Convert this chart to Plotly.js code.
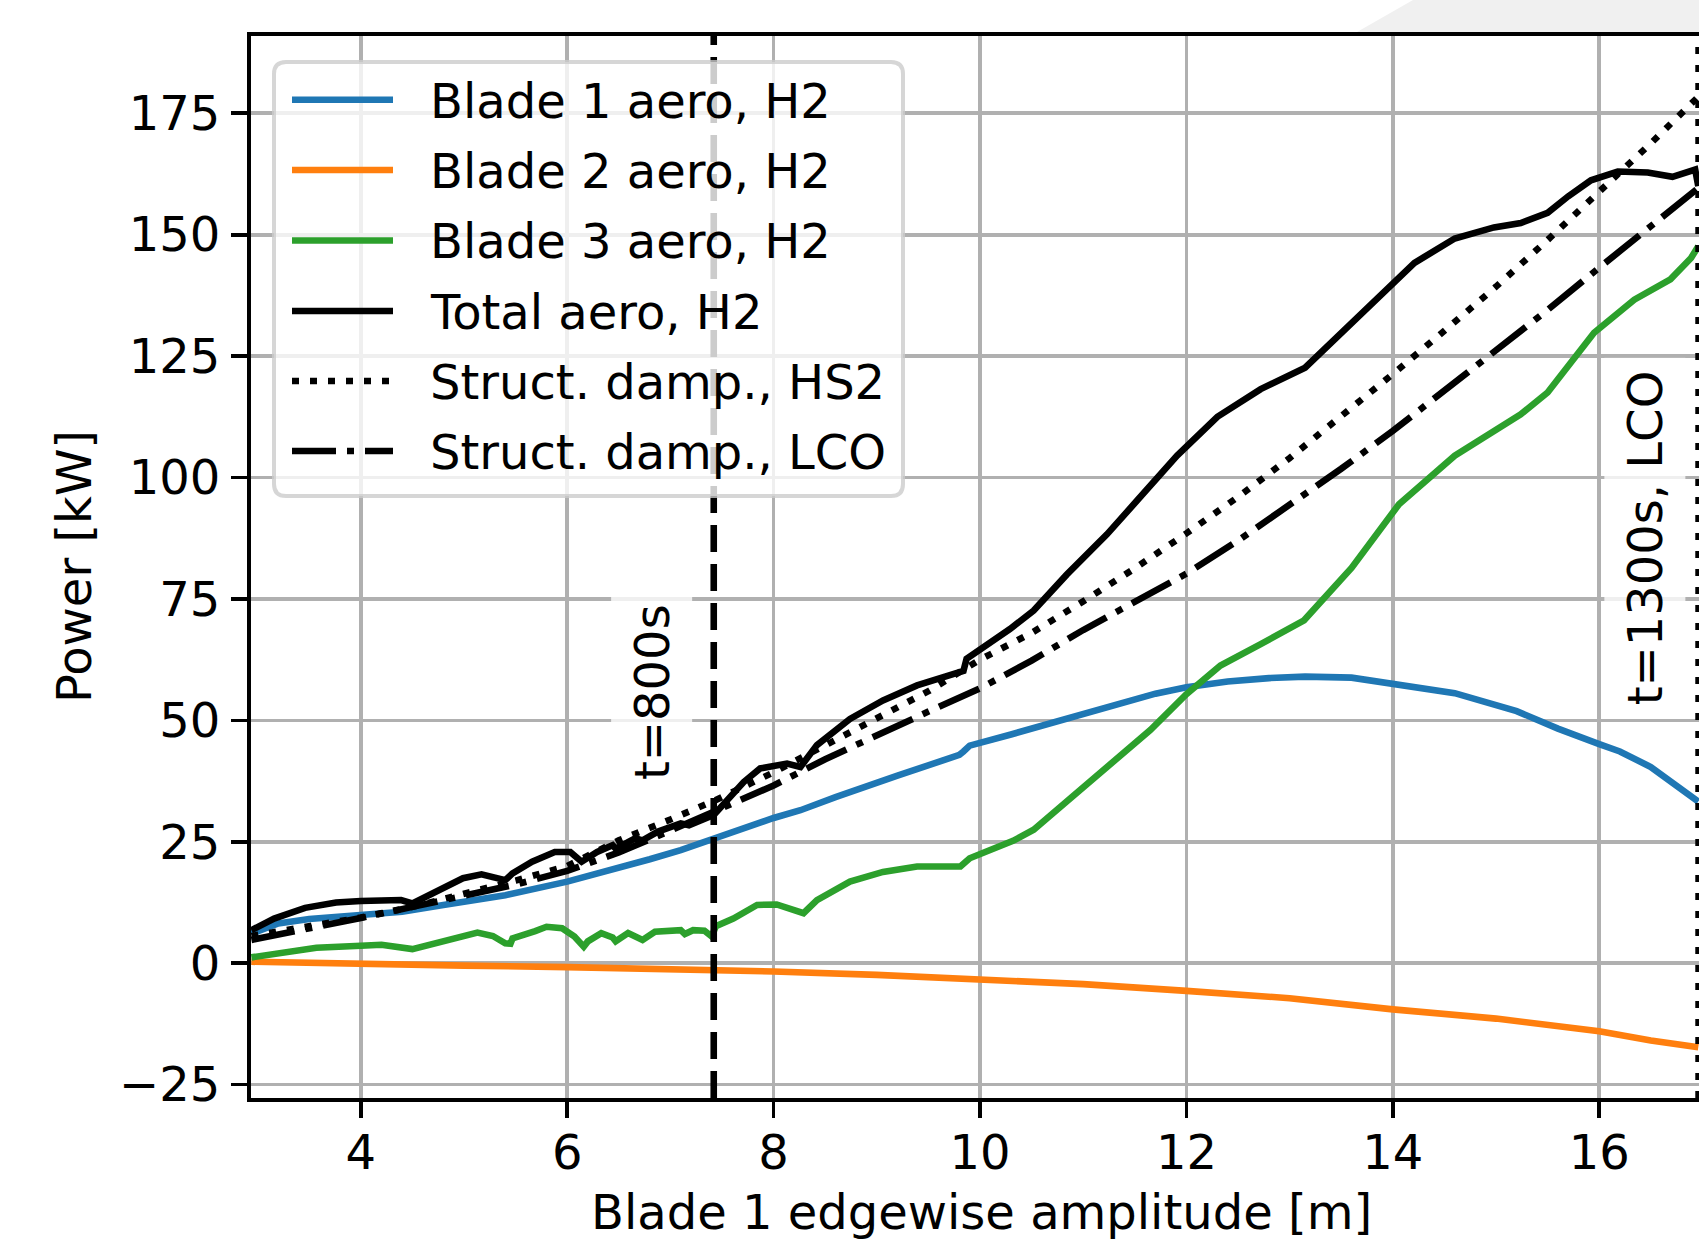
<!DOCTYPE html>
<html>
<head>
<meta charset="utf-8">
<script src="https://cdn.plot.ly/plotly-3.0.1.min.js"></script>
<style>html,body{margin:0;padding:0;background:#fff;}#chart{width:1699px;height:1239px;}</style>
</head>
<body>
<div id="chart"></div>
<script>
// ---------------- data ----------------
const blade1X = [2.94, 3.2, 3.5, 3.8, 4.0, 4.4, 4.8, 5.4, 6.0, 6.4, 6.8, 7.1, 7.42, 7.7, 8.0, 8.26, 8.6, 9.2, 9.8, 9.84, 9.9, 10.3, 10.7, 11.0, 11.4, 11.7, 12.0, 12.4, 12.8, 13.15, 13.6, 14.0, 14.6, 15.2, 15.6, 16.0, 16.2, 16.5, 16.96];
const blade1Y = [6.1, 8.2, 9.1, 9.7, 9.9, 10.6, 12.0, 14.0, 16.8, 19.0, 21.4, 23.3, 25.7, 27.8, 29.9, 31.5, 34.2, 38.6, 42.9, 43.6, 44.8, 47.1, 49.5, 51.5, 53.8, 55.5, 56.8, 58.0, 58.7, 59.0, 58.8, 57.5, 55.6, 51.9, 48.3, 45.1, 43.6, 40.4, 33.3];

const blade2X = [2.94, 4, 5, 6, 7, 7.42, 8, 9, 10, 11, 12, 13, 14, 15, 16, 16.5, 16.96];
const blade2Y = [0.3, -0.2, -0.5, -0.8, -1.1, -1.4, -1.7, -2.4, -3.2, -4.3, -5.7, -7.2, -9.5, -11.4, -14.0, -15.9, -17.3];

const blade3X = [2.94, 3.57, 4.0, 4.2, 4.5, 4.8, 5.02, 5.13, 5.28, 5.4, 5.45, 5.47, 5.69, 5.8, 5.95, 6.07, 6.16, 6.2, 6.33, 6.44, 6.47, 6.59, 6.73, 6.85, 7.1, 7.14, 7.22, 7.33, 7.4, 7.44, 7.61, 7.84, 8.03, 8.29, 8.42, 8.74, 9.06, 9.39, 9.81, 9.9, 10.32, 10.52, 10.84, 11.26, 11.65, 12.0, 12.33, 12.72, 13.14, 13.6, 14.06, 14.6, 15.24, 15.5, 15.95, 16.34, 16.69, 16.89, 16.96];
const blade3Y = [1.2, 3.2, 3.6, 3.8, 2.9, 4.5, 6.0, 6.3, 5.6, 4.1, 4.0, 5.1, 6.6, 7.5, 7.2, 5.5, 3.4, 4.5, 6.2, 5.3, 4.5, 6.2, 4.8, 6.5, 6.8, 6.0, 6.8, 6.7, 5.5, 7.6, 9.2, 12.0, 12.1, 10.3, 13.0, 16.8, 18.8, 19.9, 19.9, 21.6, 25.2, 27.5, 33.3, 40.7, 48.0, 55.4, 61.3, 65.7, 70.6, 81.4, 94.5, 104.5, 113.0, 117.5, 129.8, 136.6, 140.8, 145.2, 147.6];

const totalX = [2.94, 3.16, 3.46, 3.76, 4.0, 4.39, 4.5, 4.8, 4.99, 5.17, 5.4, 5.47, 5.66, 5.88, 6.03, 6.14, 6.29, 6.44, 6.47, 6.66, 6.73, 6.88, 7.1, 7.18, 7.42, 7.71, 7.87, 8.13, 8.26, 8.42, 8.74, 9.06, 9.39, 9.84, 9.87, 10.29, 10.52, 10.84, 11.23, 11.52, 11.91, 12.3, 12.72, 13.15, 13.6, 14.0, 14.21, 14.6, 14.98, 15.24, 15.5, 15.7, 15.92, 16.18, 16.47, 16.71, 16.93, 16.96];
const totalY = [6.8, 9.2, 11.4, 12.5, 12.8, 13.0, 12.3, 15.4, 17.5, 18.3, 17.1, 18.5, 20.9, 22.9, 22.9, 20.9, 22.9, 24.3, 23.6, 25.7, 25.3, 27.1, 28.8, 28.4, 30.5, 37.3, 40.1, 41.1, 40.4, 44.9, 50.3, 54.1, 57.2, 60.2, 62.7, 68.8, 72.6, 80.0, 88.3, 95.2, 104.5, 112.5, 118.2, 122.6, 131.8, 139.7, 144.2, 149.2, 151.5, 152.4, 154.5, 157.9, 161.2, 163.0, 162.8, 161.9, 163.4, 160.0];

const hs2X = [2.94, 3.5, 4, 4.5, 5, 5.5, 6, 6.5, 7, 7.42, 8, 8.5, 9, 9.5, 10, 10.5, 11, 11.5, 12, 12.5, 13, 13.5, 14, 14.5, 15, 15.5, 16, 16.5, 16.96];
const hs2Y = [5.6, 7.5, 9.4, 11.6, 14.2, 17.0, 20.0, 25.3, 29.6, 33.4, 39.3, 44.8, 50.3, 56.0, 62.5, 68.0, 74.5, 81.3, 88.5, 96.0, 104.0, 112.5, 121.3, 130.2, 139.3, 148.9, 158.8, 168.8, 178.4];

const lcoX = [2.94, 3.5, 4, 4.5, 5, 5.5, 6, 6.5, 7, 7.42, 8, 8.5, 9, 9.5, 10, 10.5, 11, 11.5, 12, 12.5, 13, 13.5, 14, 14.5, 15, 15.5, 16, 16.5, 16.96];
const lcoY = [4.8, 7.0, 9.3, 11.6, 13.9, 16.2, 19.0, 22.8, 27.3, 31.2, 36.6, 42.0, 47.0, 51.8, 56.6, 62.3, 68.6, 74.3, 80.2, 87.0, 94.2, 101.8, 109.6, 117.8, 126.3, 134.5, 143.2, 151.7, 159.6];

const seriesNames = ["Blade 1 aero, H2", "Blade 2 aero, H2", "Blade 3 aero, H2", "Total aero, H2", "Struct. damp., HS2", "Struct. damp., LCO"];
const markerTimesX = [7.42, 16.955];
const markerLabels = ["t=800s", "t=1300s, LCO"];
const xTicks = [4, 6, 8, 10, 12, 14, 16];
const yTicks = [-25, 0, 25, 50, 75, 100, 125, 150, 175];

// ---------------- styling / layout ----------------
const W = 1699, H = 1239;
const L = 251, R = 1699, T = 36, B = 1098;
const px = v => (v - L) / (R - L);
const py = v => (B - v) / (B - T);
const FONT = "DejaVu Sans, Liberation Sans, sans-serif";
const FS = 48;
const LW = 6.6;

const styles = [
  {color: "#1f77b4", dash: "solid"},
  {color: "#ff7f0e", dash: "solid"},
  {color: "#2ca02c", dash: "solid"},
  {color: "#000000", dash: "solid"},
  {color: "#000000", dash: "7px,11px"},
  {color: "#000000", dash: "44px,11px,7px,11px"}
];
const xs = [blade1X, blade2X, blade3X, totalX, hs2X, lcoX];
const ys = [blade1Y, blade2Y, blade3Y, totalY, hs2Y, lcoY];

const traces = xs.map((x, i) => ({
  type: "scatter", mode: "lines", x: x, y: ys[i], name: seriesNames[i],
  showlegend: false,
  line: {color: styles[i].color, width: LW, dash: styles[i].dash}
}));

const shapes = [];
// background decoration at top right (page artifact)
shapes.push({type: "path", xref: "paper", yref: "paper", layer: "below",
  path: `M${px(1357)},${py(32)} L${px(1413)},${py(0)} L${px(1699)},${py(0)} L${px(1699)},${py(32)} Z`,
  fillcolor: "#f0f0f0", line: {width: 0}});
// vertical time markers
shapes.push({type: "line", xref: "x", yref: "paper", x0: markerTimesX[0], x1: markerTimesX[0], y0: 0, y1: 1,
  line: {color: "#000", width: LW, dash: "27px,12px"}});
shapes.push({type: "line", xref: "x", yref: "paper", x0: markerTimesX[1], x1: markerTimesX[1], y0: 0, y1: 1,
  line: {color: "#000", width: LW * 0.75, dash: "7px,11px"}});

// legend frame
const lx0 = 274, ly0 = 62, lx1 = 903, ly1 = 496, rr = 12;
const rx = v => px(v), ry = v => py(v);
shapes.push({type: "path", xref: "paper", yref: "paper", layer: "above",
  path: `M${rx(lx0 + rr)},${ry(ly0)} L${rx(lx1 - rr)},${ry(ly0)} Q${rx(lx1)},${ry(ly0)} ${rx(lx1)},${ry(ly0 + rr)} ` +
        `L${rx(lx1)},${ry(ly1 - rr)} Q${rx(lx1)},${ry(ly1)} ${rx(lx1 - rr)},${ry(ly1)} ` +
        `L${rx(lx0 + rr)},${ry(ly1)} Q${rx(lx0)},${ry(ly1)} ${rx(lx0)},${ry(ly1 - rr)} ` +
        `L${rx(lx0)},${ry(ly0 + rr)} Q${rx(lx0)},${ry(ly0)} ${rx(lx0 + rr)},${ry(ly0)} Z`,
  fillcolor: "rgba(255,255,255,0.8)", line: {color: "rgba(204,204,204,0.8)", width: 4}});

const rowY = [99.7, 170, 240.5, 311, 381, 451];
const annotations = [];
rowY.forEach((yy, i) => {
  shapes.push({type: "line", xref: "paper", yref: "paper", layer: "above",
    x0: px(292), x1: px(393), y0: py(yy), y1: py(yy),
    line: {color: styles[i].color, width: LW, dash: styles[i].dash}});
  annotations.push({xref: "paper", yref: "paper", x: px(428), y: py(yy + 1), xanchor: "left", yanchor: "middle",
    text: seriesNames[i], showarrow: false, font: {family: FONT, size: FS, color: "#000"}});
});

// time marker labels
annotations.push({xref: "x", yref: "y", x: 6.82, y: 55.8, text: markerLabels[0], textangle: -90, showarrow: false,
  font: {family: FONT, size: FS, color: "#000"}, bgcolor: "rgba(255,255,255,0.8)", borderpad: 12});
annotations.push({xref: "x", yref: "y", x: 16.44, y: 87.6, text: markerLabels[1], textangle: -90, showarrow: false,
  font: {family: FONT, size: FS, color: "#000"}, bgcolor: "rgba(255,255,255,0.8)", borderpad: 12});

// axis titles
annotations.push({xref: "paper", yref: "paper", x: px(981), y: py(1212), xanchor: "center", yanchor: "middle",
  text: "Blade 1 edgewise amplitude [m]", showarrow: false, font: {family: FONT, size: FS, color: "#000"}});
annotations.push({xref: "paper", yref: "paper", x: px(74), y: py(567), xanchor: "center", yanchor: "middle",
  text: "Power [kW]", textangle: -90, showarrow: false, font: {family: FONT, size: FS, color: "#000"}});

const layout = {
  width: W, height: H,
  margin: {l: L, r: W - R, t: T, b: H - B, pad: 0},
  paper_bgcolor: "#ffffff", plot_bgcolor: "#ffffff",
  showlegend: false,
  font: {family: FONT, size: FS, color: "#000"},
  xaxis: {
    range: [2.936, 16.967], tickmode: "array", tickvals: xTicks, ticktext: xTicks.map(String),
    showgrid: true, gridcolor: "#b0b0b0", gridwidth: 3.7, zeroline: false,
    showline: true, linecolor: "#000", linewidth: 4, mirror: true,
    ticks: "outside", ticklen: 16, tickwidth: 3.7, tickcolor: "#000",
    tickfont: {family: FONT, size: FS, color: "#000"}, ticklabelstandoff: -7
  },
  yaxis: {
    range: [-27.75, 190.9], tickmode: "array", tickvals: yTicks, ticktext: yTicks.map(v => v < 0 ? "\u2212" + Math.abs(v) : String(v)),
    showgrid: true, gridcolor: "#b0b0b0", gridwidth: 3.7, zeroline: false,
    showline: true, linecolor: "#000", linewidth: 4, mirror: false,
    ticks: "outside", ticklen: 16, tickwidth: 3.7, tickcolor: "#000",
    tickfont: {family: FONT, size: FS, color: "#000"}, ticklabelstandoff: 1
  },
  shapes: shapes,
  annotations: annotations
};

Plotly.newPlot("chart", traces, layout, {staticPlot: true, displayModeBar: false});
</script>
</body>
</html>
